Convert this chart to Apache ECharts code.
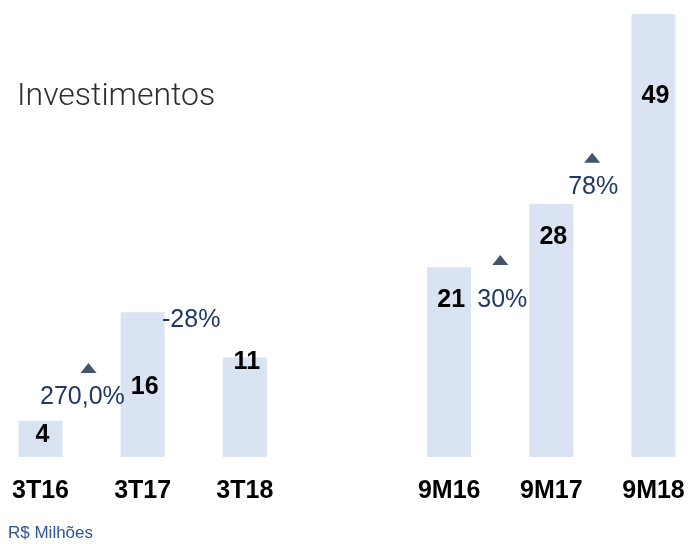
<!DOCTYPE html>
<head>
  <meta charset="utf-8">
  <script src="https://cdn.jsdelivr.net/npm/echarts@6/dist/echarts.min.js"></script>
  <style>
    body{margin:0;background:#fff;}
  </style>
</head>
<body>
  <div id="chart" style="width:689px;height:544px;"></div>
  <script>
    // data
    var categories = ['3T16', '3T17', '3T18', '', '9M16', '9M17', '9M18'];
    var investimentos = [4, 16, 11, null, 21, 28, 49];
    var changeLabels = ['270,0%', '-28%', '30%', '78%'];
    var changeUp = [true, false, true, true];

    // layout of the annotations (x in category slots, y in chart units)
    var changeTextPos = [[0.41, 6.6], [1.475, 15.15], [4.52, 17.4], [5.41, 29.8]];
    var changeTriPos = [[0.47, 9.85], null, [4.5, 21.8], [5.4, 33.1]];
    var valueLabelDy = [2, 62, -8, 20, 21, 70];

    var narrow = "'Liberation Sans Narrow', 'Arial Narrow', 'Liberation Sans', sans-serif";

    var barData = [];
    var k = 0;
    investimentos.forEach(function (v) {
      if (v == null) { barData.push('-'); return; }
      barData.push({ value: v, label: { offset: [2, valueLabelDy[k]] } });
      k++;
    });

    var textData = changeLabels.map(function (t, i) {
      return { value: changeTextPos[i], name: t };
    });
    var triData = [];
    changeTriPos.forEach(function (p, i) {
      if (p && changeUp[i]) triData.push(p);
    });

    var chart = echarts.init(document.getElementById('chart'));
    chart.setOption({
      animation: false,
      title: {
        text: 'Investimentos',
        left: 12, top: 76,
        textStyle: { fontFamily: 'Roboto', fontWeight: 300, fontSize: 32, color: '#2e2e2e' }
      },
      graphic: [{
        type: 'text', left: 8, top: 525,
        style: { text: 'R$ Milhões', font: "17px " + narrow, fill: '#2f5597' }
      }],
      grid: { left: 40.5, right: 35.5, top: 14, bottom: 87 },
      xAxis: [{
        type: 'category',
        data: categories,
        boundaryGap: false,
        axisLine: { show: false },
        axisTick: { show: false },
        splitLine: { show: false },
        axisLabel: {
          margin: 22,
          color: '#000',
          fontWeight: 'bold',
          fontSize: 25,
          fontFamily: narrow
        }
      }, {
        type: 'value', min: 0, max: 6, show: false
      }],
      yAxis: { type: 'value', min: 0, max: 49, show: false },
      series: [{
        type: 'bar',
        data: barData,
        barWidth: 44,
        clip: false,
        itemStyle: { color: '#dae3f1' },
        label: {
          show: true,
          position: 'insideTop',
          distance: 0,
          color: '#000',
          fontWeight: 'bold',
          fontSize: 25,
          fontFamily: narrow
        }
      }, {
        type: 'scatter',
        xAxisIndex: 1,
        data: triData,
        symbol: 'triangle',
        symbolSize: [16, 10],
        itemStyle: { color: '#44546a', opacity: 1 },
        clip: false
      }, {
        type: 'scatter',
        xAxisIndex: 1,
        data: textData,
        symbolSize: 1,
        itemStyle: { color: 'rgba(0,0,0,0)', opacity: 1 },
        clip: false,
        label: {
          show: true,
          position: 'inside',
          formatter: function (p) { return p.name; },
          color: '#1f3864',
          fontSize: 25,
          fontFamily: narrow
        }
      }]
    });
  </script>
</body>
